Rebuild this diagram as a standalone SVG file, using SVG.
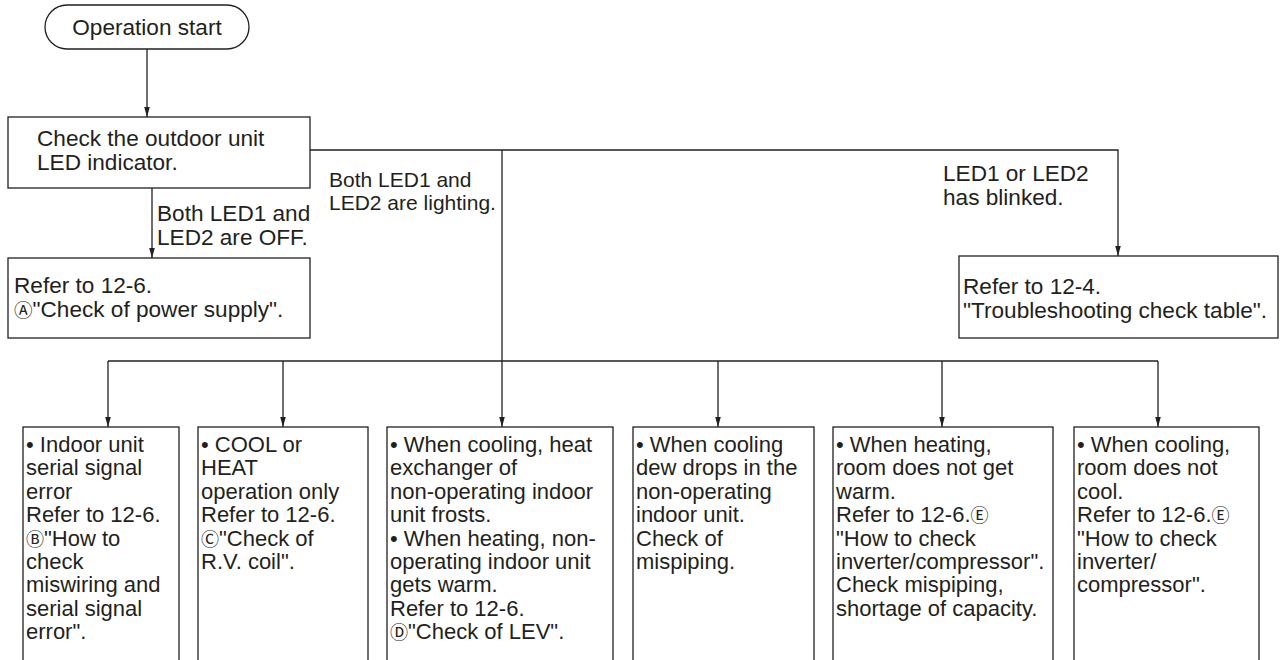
<svg xmlns="http://www.w3.org/2000/svg" width="1280" height="660" viewBox="0 0 1280 660">
<style>
  .box{fill:#fff;stroke:#231f20;stroke-width:1.3}
  .ln{fill:none;stroke:#231f20;stroke-width:1.3}
  text{font-family:"Liberation Sans",Arial,"DejaVu Sans","Noto Sans CJK JP",sans-serif;fill:#231f20}
  .t23{font-size:22.6px}
  .t21{font-size:21px}
  .t22{font-size:22px}
  .c{font-size:0.82em}
</style>
<defs>
  <marker id="arr" markerUnits="userSpaceOnUse" markerWidth="10" markerHeight="8" refX="10" refY="4" orient="auto" viewBox="0 0 10 8">
    <path d="M0,1.2 L10,4 L0,6.8 Z" fill="#231f20"/>
  </marker>
</defs>
<rect width="1280" height="660" fill="#fff"/>
<g id="connectors">
  <line class="ln" x1="147" y1="49" x2="147" y2="117" marker-end="url(#arr)"/>
  <line class="ln" x1="152" y1="188" x2="152" y2="258" marker-end="url(#arr)"/>
  <polyline class="ln" points="310,150 1118,150 1118,256" marker-end="url(#arr)"/>
  <line class="ln" x1="502" y1="150" x2="502" y2="427" marker-end="url(#arr)"/>
  <line class="ln" x1="108" y1="361" x2="1158" y2="361"/>
  <line class="ln" x1="108" y1="361" x2="108" y2="427" marker-end="url(#arr)"/>
  <line class="ln" x1="283" y1="361" x2="283" y2="427" marker-end="url(#arr)"/>
  <line class="ln" x1="718" y1="361" x2="718" y2="427" marker-end="url(#arr)"/>
  <line class="ln" x1="942" y1="361" x2="942" y2="427" marker-end="url(#arr)"/>
  <line class="ln" x1="1158" y1="361" x2="1158" y2="427" marker-end="url(#arr)"/>
  <text class="t23"><tspan x="157" y="221">Both LED1 and</tspan><tspan x="157" y="245">LED2 are OFF.</tspan></text>
  <text class="t21"><tspan x="329" y="187">Both LED1 and</tspan><tspan x="329" y="210">LED2 are lighting.</tspan></text>
  <text class="t23"><tspan x="943" y="181">LED1 or LED2</tspan><tspan x="943" y="205">has blinked.</tspan></text>
</g>
<g id="start">
  <rect class="box" x="45" y="5" width="204" height="44" rx="22" ry="22"/>
  <text class="t23" x="147" y="35" text-anchor="middle">Operation start</text>
</g>
<g id="check">
  <rect class="box" x="8" y="117" width="302" height="71"/>
  <text class="t23"><tspan x="37" y="146">Check the outdoor unit</tspan><tspan x="37" y="170">LED indicator.</tspan></text>
</g>
<g id="powersupply">
  <rect class="box" x="8" y="258" width="302" height="80"/>
  <text class="t23"><tspan x="14" y="293">Refer to 12-6.</tspan><tspan x="14" y="317"><tspan class="c">Ⓐ</tspan>"Check of power supply".</tspan></text>
</g>
<g id="checktable">
  <rect class="box" x="959" y="256" width="319" height="82"/>
  <text class="t23"><tspan x="963" y="294">Refer to 12-4.</tspan><tspan x="963" y="318">"Troubleshooting check table".</tspan></text>
</g>
<g id="b1">
  <rect class="box" x="23" y="427" width="156" height="260"/>
  <text class="t22"><tspan x="26" y="452">• Indoor unit</tspan><tspan x="26" y="475.4">serial signal</tspan><tspan x="26" y="498.8">error</tspan><tspan x="26" y="522.2">Refer to 12-6.</tspan><tspan x="26" y="545.6"><tspan class="c">Ⓑ</tspan>"How to</tspan><tspan x="26" y="569">check</tspan><tspan x="26" y="592.4">miswiring and</tspan><tspan x="26" y="615.8">serial signal</tspan><tspan x="26" y="639.2">error".</tspan></text>
</g>
<g id="b2">
  <rect class="box" x="198" y="427" width="170" height="260"/>
  <text class="t22"><tspan x="201" y="452">• COOL or</tspan><tspan x="201" y="475.4">HEAT</tspan><tspan x="201" y="498.8">operation only</tspan><tspan x="201" y="522.2">Refer to 12-6.</tspan><tspan x="201" y="545.6"><tspan class="c">Ⓒ</tspan>"Check of</tspan><tspan x="201" y="569">R.V. coil".</tspan></text>
</g>
<g id="b3">
  <rect class="box" x="387" y="427" width="226" height="260"/>
  <text class="t22"><tspan x="390" y="452">• When cooling, heat</tspan><tspan x="390" y="475.4">exchanger of</tspan><tspan x="390" y="498.8">non-operating indoor</tspan><tspan x="390" y="522.2">unit frosts.</tspan><tspan x="390" y="545.6">• When heating, non-</tspan><tspan x="390" y="569">operating indoor unit</tspan><tspan x="390" y="592.4">gets warm.</tspan><tspan x="390" y="615.8">Refer to 12-6.</tspan><tspan x="390" y="639.2"><tspan class="c">Ⓓ</tspan>"Check of LEV".</tspan></text>
</g>
<g id="b4">
  <rect class="box" x="633" y="427" width="181" height="260"/>
  <text class="t22"><tspan x="636" y="452">• When cooling</tspan><tspan x="636" y="475.4">dew drops in the</tspan><tspan x="636" y="498.8">non-operating</tspan><tspan x="636" y="522.2">indoor unit.</tspan><tspan x="636" y="545.6">Check of</tspan><tspan x="636" y="569">mispiping.</tspan></text>
</g>
<g id="b5">
  <rect class="box" x="833" y="427" width="220" height="260"/>
  <text class="t22"><tspan x="836" y="452">• When heating,</tspan><tspan x="836" y="475.4">room does not get</tspan><tspan x="836" y="498.8">warm.</tspan><tspan x="836" y="522.2">Refer to 12-6.<tspan class="c">Ⓔ</tspan></tspan><tspan x="836" y="545.6">"How to check</tspan><tspan x="836" y="569">inverter/compressor".</tspan><tspan x="836" y="592.4">Check mispiping,</tspan><tspan x="836" y="615.8">shortage of capacity.</tspan></text>
</g>
<g id="b6">
  <rect class="box" x="1074" y="427" width="185" height="260"/>
  <text class="t22"><tspan x="1077" y="452">• When cooling,</tspan><tspan x="1077" y="475.4">room does not</tspan><tspan x="1077" y="498.8">cool.</tspan><tspan x="1077" y="522.2">Refer to 12-6.<tspan class="c">Ⓔ</tspan></tspan><tspan x="1077" y="545.6">"How to check</tspan><tspan x="1077" y="569">inverter/</tspan><tspan x="1077" y="592.4">compressor".</tspan></text>
</g>
</svg>
